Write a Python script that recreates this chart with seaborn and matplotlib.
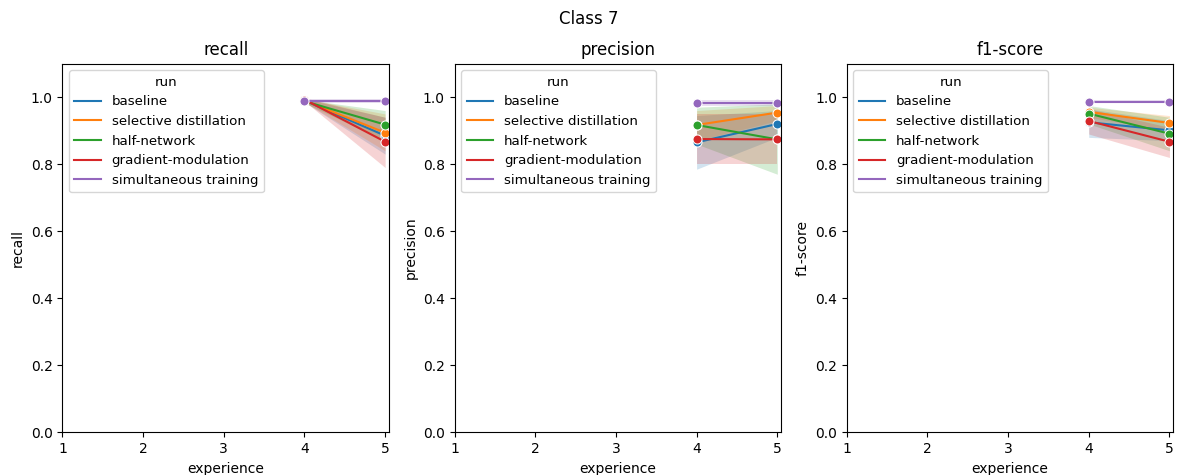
import pandas as pd
import matplotlib
matplotlib.use('Agg')
import matplotlib.pyplot as plt
from matplotlib.lines import Line2D
import seaborn as sns

# experiences with results
experience = [4, 5]
runs = ['baseline', 'selective distillation', 'half-network',
        'gradient-modulation', 'simultaneous training']
metrics = ['recall', 'precision', 'f1-score']

# mean values per run, per metric (exp 4, exp 5)
recall_mean = {
    'baseline': [0.990, 0.885],
    'selective distillation': [0.990, 0.894],
    'half-network': [0.988, 0.918],
    'gradient-modulation': [0.993, 0.867],
    'simultaneous training': [0.989, 0.989],
}
recall_lo = {
    'baseline': [0.985, 0.83],
    'selective distillation': [0.985, 0.84],
    'half-network': [0.983, 0.87],
    'gradient-modulation': [0.988, 0.79],
    'simultaneous training': [0.984, 0.984],
}
recall_hi = {
    'baseline': [0.995, 0.94],
    'selective distillation': [0.995, 0.95],
    'half-network': [0.993, 0.96],
    'gradient-modulation': [0.998, 0.94],
    'simultaneous training': [0.994, 0.994],
}

precision_mean = {
    'baseline': [0.865, 0.920],
    'selective distillation': [0.917, 0.954],
    'half-network': [0.917, 0.874],
    'gradient-modulation': [0.875, 0.874],
    'simultaneous training': [0.984, 0.984],
}
precision_lo = {
    'baseline': [0.785, 0.88],
    'selective distillation': [0.87, 0.93],
    'half-network': [0.86, 0.77],
    'gradient-modulation': [0.80, 0.80],
    'simultaneous training': [0.975, 0.975],
}
precision_hi = {
    'baseline': [0.945, 0.96],
    'selective distillation': [0.96, 0.975],
    'half-network': [0.97, 0.98],
    'gradient-modulation': [0.95, 0.95],
    'simultaneous training': [0.993, 0.993],
}

f1_mean = {
    'baseline': [0.925, 0.901],
    'selective distillation': [0.956, 0.923],
    'half-network': [0.951, 0.891],
    'gradient-modulation': [0.929, 0.867],
    'simultaneous training': [0.987, 0.987],
}
f1_lo = {
    'baseline': [0.88, 0.87],
    'selective distillation': [0.94, 0.90],
    'half-network': [0.92, 0.84],
    'gradient-modulation': [0.89, 0.82],
    'simultaneous training': [0.983, 0.983],
}
f1_hi = {
    'baseline': [0.965, 0.93],
    'selective distillation': [0.97, 0.945],
    'half-network': [0.975, 0.94],
    'gradient-modulation': [0.965, 0.91],
    'simultaneous training': [0.991, 0.991],
}

tables = {
    'recall': (recall_mean, recall_lo, recall_hi),
    'precision': (precision_mean, precision_lo, precision_hi),
    'f1-score': (f1_mean, f1_lo, f1_hi),
}

# long-form frame
rows = []
for m, (mean, lo, hi) in tables.items():
    for r in runs:
        for i, e in enumerate(experience):
            rows.append({'metric': m, 'run': r, 'experience': e,
                         'value': mean[r][i], 'lo': lo[r][i], 'hi': hi[r][i]})
df = pd.DataFrame(rows)

palette = dict(zip(runs, sns.color_palette('tab10', len(runs))))

fig, axes = plt.subplots(1, 3, figsize=(11.77, 4.75), dpi=100)

for ax, m in zip(axes, metrics):
    d = df[df['metric'] == m]
    for r in runs:
        dr = d[d['run'] == r]
        ax.fill_between(dr['experience'], dr['lo'], dr['hi'],
                        color=palette[r], alpha=0.2, linewidth=0)
    sns.lineplot(data=d, x='experience', y='value', hue='run',
                 hue_order=runs, palette=palette, marker='o', markersize=6.5,
                 errorbar=None, ax=ax, legend=False)
    ax.set_title(m)
    ax.set_ylabel(m)
    ax.set_xlabel('experience')
    ax.set_xlim(1, 5.05)
    ax.set_ylim(0, 1.1)
    ax.set_xticks([1, 2, 3, 4, 5])
    handles = [Line2D([], [], color=palette[r], lw=1.5) for r in runs]
    ax.legend(handles, runs, title='run', loc='upper left',
              fontsize=9.6, title_fontsize=9.6)

fig.suptitle('Class 7')
plt.subplots_adjust(left=0.053, right=0.997, top=0.866, bottom=0.09, wspace=0.2)
plt.savefig('out.png')
plt.close()
